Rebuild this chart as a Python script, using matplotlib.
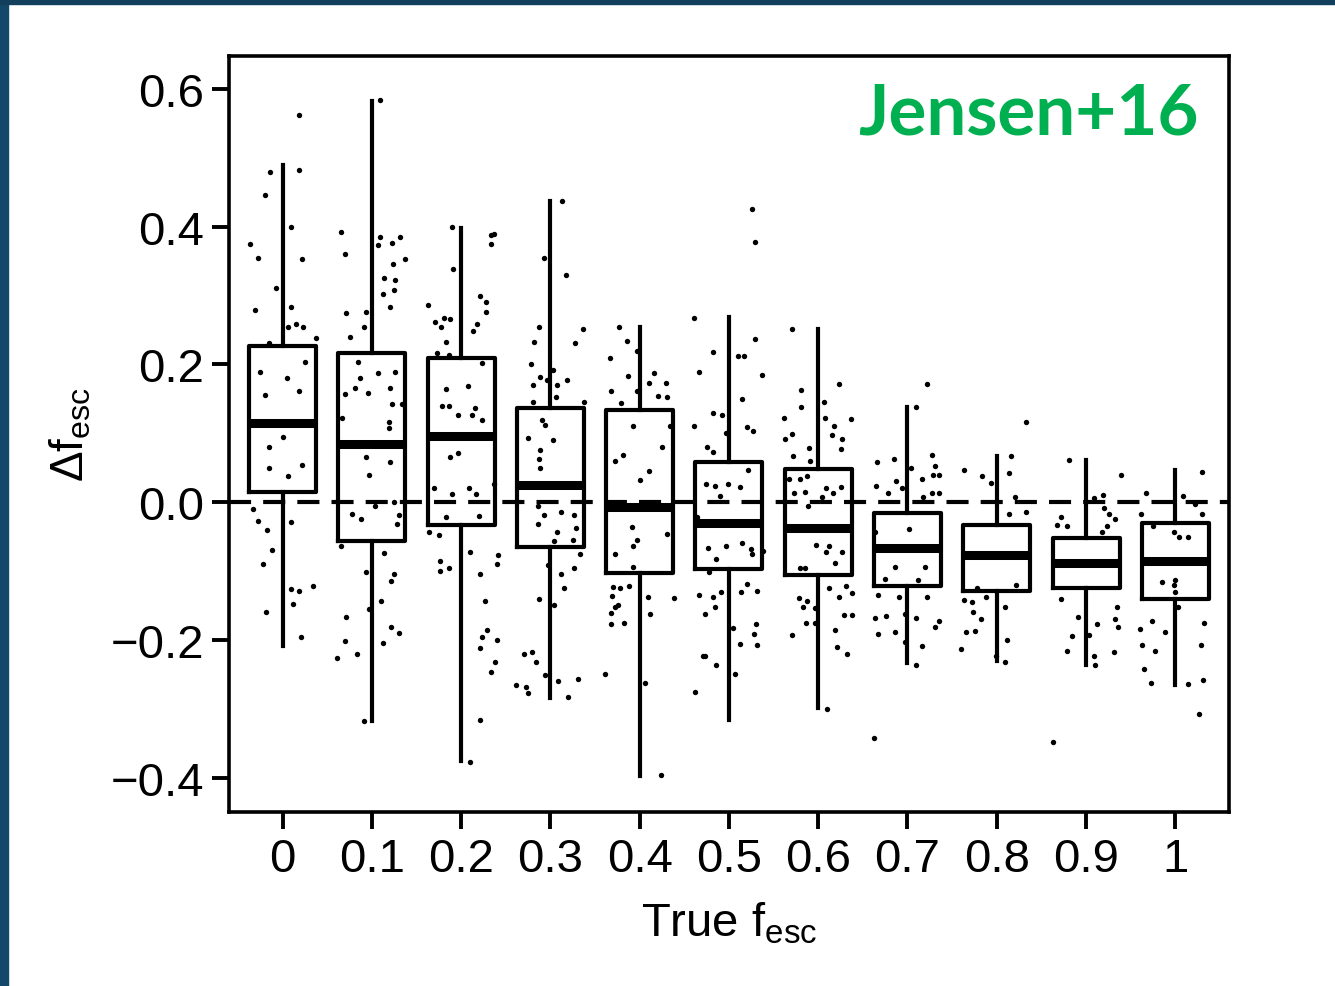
import numpy as np
import matplotlib
matplotlib.use('Agg')
import matplotlib.pyplot as plt
from matplotlib.patches import Rectangle

# categories (true f_esc)
labels = ['0', '0.1', '0.2', '0.3', '0.4', '0.5', '0.6', '0.7', '0.8', '0.9', '1']

# box statistics
q1 = [0.015, -0.057, -0.033, -0.065, -0.103, -0.097, -0.106, -0.122, -0.129, -0.125, -0.141]
med = [0.115, 0.084, 0.096, 0.025, -0.007, -0.030, -0.038, -0.067, -0.077, -0.089, -0.086]
q3 = [0.227, 0.216, 0.209, 0.137, 0.134, 0.058, 0.048, -0.016, -0.033, -0.052, -0.031]
wlo = [-0.209, -0.318, -0.376, -0.285, -0.398, -0.317, -0.299, -0.234, -0.231, -0.237, -0.266]
whi = [0.490, 0.582, 0.398, 0.437, 0.254, 0.269, 0.251, 0.138, 0.067, 0.061, 0.046]

# individual points: horizontal jitter (in category units) and delta f_esc
jit0 = [0.18, -0.14, 0.18, -0.20, 0.09, -0.36, -0.27, 0.22, -0.07, -0.31, 0.09, 0.15, 0.23, 0.06, 0.37, -0.15,
        -0.25, 0.05, -0.20, 0.18, 0.25, -0.15, -0.15, 0.06, 0.22, 0.01, -0.33, -0.28, -0.17, 0.10, -0.12, -0.22,
        0.09, 0.18, 0.34, 0.12, -0.19, 0.21]
val0 = [0.562, 0.479, 0.483, 0.446, 0.400, 0.375, 0.355, 0.353, 0.311, 0.279, 0.283, 0.259, 0.254, 0.254, 0.238, 0.231,
        0.189, 0.181, 0.155, 0.161, 0.203, 0.080, 0.050, 0.038, 0.054, 0.094, -0.010, -0.027, -0.040, -0.029, -0.069, -0.090,
        -0.126, -0.129, -0.122, -0.148, -0.159, -0.196]

jit1 = [0.09, -0.34, -0.30, 0.09, 0.07, 0.23, 0.32, 0.37, 0.24, 0.14, 0.26, 0.25, 0.12, 0.20, -0.29, -0.06,
        -0.09, -0.24, -0.16, -0.13, 0.07, -0.19, -0.04, -0.30, 0.26, 0.20, 0.23, 0.34, 0.19, 0.19, -0.33, 0.20,
        -0.06, -0.03, -0.22, -0.12, 0.04, 0.25, 0.30, 0.28, -0.34, 0.14, -0.07, 0.25, 0.21, 0.10, -0.03, -0.29,
        0.21, 0.31, -0.30, 0.12, -0.17, -0.39, -0.09]
val1 = [0.584, 0.392, 0.360, 0.385, 0.373, 0.376, 0.385, 0.353, 0.346, 0.325, 0.323, 0.308, 0.303, 0.283, 0.274, 0.276,
        0.254, 0.240, 0.203, 0.181, 0.187, 0.166, 0.159, 0.157, 0.189, 0.166, 0.143, 0.143, 0.117, 0.107, 0.122, 0.058,
        0.066, 0.039, -0.017, -0.025, -0.005, 0.000, -0.018, -0.032, -0.064, -0.074, -0.102, -0.105, -0.114, -0.143, -0.155, -0.167,
        -0.181, -0.190, -0.201, -0.205, -0.220, -0.226, -0.318]

jit2 = [-0.10, 0.34, 0.37, 0.34, -0.09, 0.21, 0.28, 0.28, -0.37, -0.29, -0.23, -0.19, -0.12, -0.17, 0.13, 0.18,
        -0.27, -0.14, 0.23, -0.17, 0.08, -0.21, -0.14, -0.04, 0.16, 0.12, 0.23, -0.12, -0.04, -0.30, -0.10, 0.09,
        0.17, 0.37, -0.17, 0.20, -0.25, -0.36, 0.10, -0.24, -0.24, -0.14, 0.21, 0.40, 0.41, 0.27, 0.29, 0.23,
        0.40, 0.21, 0.38, 0.33, 0.21, 0.10]
val2 = [0.400, 0.388, 0.389, 0.375, 0.338, 0.300, 0.290, 0.276, 0.286, 0.261, 0.254, 0.268, 0.266, 0.233, 0.248, 0.258,
        0.216, 0.214, 0.202, 0.165, 0.169, 0.139, 0.139, 0.127, 0.136, 0.126, 0.119, 0.066, 0.072, 0.020, 0.012, 0.021,
        0.012, 0.027, -0.021, -0.020, -0.048, -0.044, -0.072, -0.086, -0.100, -0.095, -0.105, -0.090, -0.077, -0.144, -0.185, -0.196,
        -0.200, -0.212, -0.232, -0.246, -0.316, -0.378]

jit3 = [0.13, -0.07, 0.17, -0.13, 0.37, -0.18, 0.28, -0.22, -0.12, -0.19, -0.04, 0.03, 0.08, 0.19, -0.19, 0.06,
        0.38, -0.09, -0.06, -0.25, 0.03, -0.12, -0.13, -0.12, -0.14, -0.07, 0.12, 0.27, -0.14, 0.29, 0.07, 0.25,
        0.04, 0.33, -0.03, 0.12, 0.26, 0.15, -0.13, 0.04, -0.30, -0.20, -0.16, -0.06, -0.39, -0.27, -0.25, 0.09,
        0.31, 0.20]
val3 = [0.437, 0.355, 0.330, 0.254, 0.252, 0.233, 0.231, 0.201, 0.182, 0.170, 0.177, 0.192, 0.170, 0.177, 0.145, 0.152,
        0.146, 0.119, 0.112, 0.093, 0.090, 0.076, 0.063, 0.049, -0.006, -0.018, -0.014, -0.018, -0.032, -0.037, -0.044, -0.055,
        -0.056, -0.076, -0.092, -0.104, -0.095, -0.124, -0.141, -0.149, -0.220, -0.217, -0.232, -0.251, -0.265, -0.269, -0.277, -0.260,
        -0.257, -0.283]

jit4 = [-0.23, -0.14, -0.33, -0.03, -0.13, 0.16, 0.10, 0.29, 0.21, 0.31, -0.32, -0.21, -0.03, -0.07, 0.34, -0.19,
        -0.28, 0.25, 0.10, 0.00, -0.09, -0.07, -0.03, -0.28, 0.31, -0.07, -0.30, -0.22, -0.12, 0.09, 0.39, -0.31,
        -0.24, -0.28, -0.32, -0.17, 0.12, -0.32, -0.39, 0.06, 0.24]
val4 = [0.255, 0.234, 0.210, 0.220, 0.183, 0.187, 0.173, 0.173, 0.154, 0.153, 0.162, 0.144, 0.162, 0.110, 0.110, 0.068,
        0.060, 0.080, 0.045, 0.032, -0.036, -0.064, -0.055, -0.075, -0.046, -0.094, -0.123, -0.125, -0.122, -0.138, -0.139, -0.137,
        -0.150, -0.153, -0.161, -0.175, -0.162, -0.177, -0.249, -0.263, -0.397]

jit5 = [0.26, 0.29, -0.39, 0.29, -0.18, 0.10, 0.17, -0.34, 0.37, 0.15, -0.18, -0.08, -0.39, 0.20, 0.27, -0.03,
        -0.24, -0.18, 0.21, -0.26, -0.16, -0.01, 0.12, -0.10, -0.36, 0.12, -0.03, -0.23, 0.15, 0.25, 0.26, -0.14,
        0.38, -0.22, 0.20, 0.14, -0.34, -0.18, -0.09, -0.16, 0.32, -0.27, 0.30, 0.28, 0.05, 0.32, 0.12, -0.29,
        -0.27, -0.15, 0.07, -0.38]
val5 = [0.426, 0.378, 0.268, 0.237, 0.218, 0.212, 0.212, 0.189, 0.185, 0.150, 0.130, 0.126, 0.110, 0.109, 0.103, 0.100,
        0.080, 0.073, 0.047, 0.027, 0.024, 0.027, 0.022, 0.009, -0.022, -0.029, -0.064, -0.066, -0.059, -0.068, -0.075, -0.083,
        -0.071, -0.101, -0.119, -0.131, -0.135, -0.138, -0.131, -0.152, -0.129, -0.162, -0.177, -0.191, -0.183, -0.207, -0.206, -0.224,
        -0.224, -0.237, -0.250, -0.276]

jit6 = [-0.29, 0.23, -0.19, -0.19, 0.06, -0.38, 0.08, 0.37, 0.18, -0.37, -0.29, 0.15, 0.27, 0.25, -0.10, -0.28,
        -0.09, -0.33, -0.20, -0.12, 0.09, -0.15, 0.04, 0.17, 0.26, -0.27, -0.11, -0.03, 0.12, 0.09, 0.27, 0.19,
        -0.20, -0.15, 0.12, 0.31, 0.38, 0.23, -0.22, -0.12, -0.17, -0.04, 0.29, 0.38, -0.14, -0.04, 0.19, -0.29,
        0.21, 0.32, 0.10]
val6 = [0.252, 0.171, 0.163, 0.138, 0.145, 0.122, 0.122, 0.121, 0.111, 0.092, 0.099, 0.097, 0.092, 0.077, 0.078, 0.067,
        0.060, 0.033, 0.033, 0.038, 0.021, 0.015, 0.008, 0.013, 0.022, 0.013, -0.005, -0.062, -0.063, -0.072, -0.073, -0.088,
        -0.096, -0.096, -0.125, -0.122, -0.132, -0.138, -0.139, -0.143, -0.152, -0.154, -0.164, -0.164, -0.175, -0.175, -0.185, -0.193,
        -0.211, -0.221, -0.300]

jit7 = [0.22, 0.10, 0.28, -0.15, -0.34, 0.04, 0.31, 0.29, 0.35, 0.16, -0.13, -0.35, -0.22, 0.17, 0.27, 0.35,
        -0.06, 0.02, -0.36, -0.11, 0.00, 0.09, -0.14, 0.20, -0.25, 0.12, -0.33, -0.09, 0.22, -0.36, -0.24, -0.03,
        0.09, 0.35, 0.31, -0.14, -0.33, -0.03, 0.16, 0.09, -0.37]
val7 = [0.172, 0.138, 0.069, 0.062, 0.059, 0.049, 0.053, 0.040, 0.039, 0.034, 0.031, 0.023, 0.013, 0.008, 0.013, 0.013,
        0.020, -0.039, -0.044, -0.066, -0.066, -0.067, -0.094, -0.094, -0.112, -0.113, -0.135, -0.138, -0.138, -0.168, -0.166, -0.163,
        -0.168, -0.172, -0.182, -0.188, -0.192, -0.203, -0.209, -0.236, -0.342]

jit8 = [0.33, 0.16, -0.37, -0.16, -0.06, 0.14, 0.20, 0.33, 0.14, -0.08, 0.22, -0.22, -0.12, -0.37, -0.28, 0.09,
        -0.27, -0.18, -0.34, -0.24, 0.12, -0.40, -0.01, 0.09]
val8 = [0.117, 0.067, 0.046, 0.038, 0.028, 0.042, 0.008, -0.015, -0.017, -0.077, -0.120, -0.125, -0.138, -0.142, -0.145, -0.153,
        -0.160, -0.170, -0.189, -0.187, -0.200, -0.214, -0.223, -0.232]

jit9 = [-0.19, 0.39, 0.09, 0.19, -0.28, -0.33, -0.21, 0.26, 0.32, 0.24, 0.18, 0.20, -0.05, 0.24, -0.28, 0.35,
        -0.09, 0.12, 0.32, 0.36, -0.16, 0.03, -0.21, 0.31, 0.09, 0.10, -0.37]
val9 = [0.061, 0.040, 0.006, 0.011, -0.021, -0.033, -0.034, -0.017, -0.025, -0.034, -0.043, -0.008, -0.089, -0.090, -0.140, -0.152,
        -0.167, -0.177, -0.169, -0.181, -0.194, -0.193, -0.216, -0.217, -0.224, -0.237, -0.349]

jit10 = [0.30, -0.33, 0.09, 0.22, 0.30, -0.38, -0.25, -0.02, 0.04, 0.14, -0.15, 0.00, -0.02, 0.00, 0.03, -0.26,
         0.32, -0.40, -0.12, 0.29, -0.37, -0.23, -0.35, -0.27, 0.14, 0.31, 0.27]
val10 = [0.044, 0.013, 0.009, -0.003, -0.017, -0.017, -0.034, -0.043, -0.050, -0.050, -0.116, -0.113, -0.121, -0.131, -0.153, -0.173,
         -0.176, -0.184, -0.188, -0.207, -0.207, -0.216, -0.243, -0.262, -0.264, -0.258, -0.308]

jitters = [jit0, jit1, jit2, jit3, jit4, jit5, jit6, jit7, jit8, jit9, jit10]
values = [val0, val1, val2, val3, val4, val5, val6, val7, val8, val9, val10]

yticks = [-0.4, -0.2, 0.0, 0.2, 0.4, 0.6]
ytick_labels = ['\u22120.4', '\u22120.2', '0.0', '0.2', '0.4', '0.6']

plt.rcParams['font.family'] = ['Liberation Sans', 'DejaVu Sans']
plt.rcParams['mathtext.default'] = 'regular'

fig = plt.figure(figsize=(13.35, 9.87), dpi=100)

# slide background strips (left and top)
fig.patches.append(Rectangle((0, 0), 0.0062, 1, transform=fig.transFigure, color='#14486a', zorder=0))
fig.patches.append(Rectangle((0, 0.9945), 1, 0.0055, transform=fig.transFigure, color='#12405c', zorder=0))

ax = fig.add_axes([0.1715, 0.1763, 0.749, 0.766])

pos = np.arange(1, len(labels) + 1)
stats = []
for i in range(len(labels)):
    stats.append(dict(med=med[i], q1=q1[i], q3=q3[i], whislo=wlo[i], whishi=whi[i]))

ax.bxp(stats, positions=pos, widths=0.75, showcaps=False, showfliers=False,
       boxprops=dict(color='black', linewidth=3.0),
       whiskerprops=dict(color='black', linewidth=3.0),
       medianprops=dict(color='black', linewidth=6.5, solid_capstyle='butt'))

for i in range(len(labels)):
    ax.scatter(pos[i] + np.array(jitters[i]), values[i], s=15, color='black', linewidths=0, zorder=4)

ax.axhline(0, color='black', linestyle=(0, (5.3, 2.9)), linewidth=3.0, zorder=3)

ax.set_xlim(0.4, 11.6)
ax.set_ylim(-0.450, 0.648)
ax.set_xticks(pos)
ax.set_xticklabels(labels)
ax.set_yticks(yticks)
ax.set_yticklabels(ytick_labels)
ax.tick_params(axis='both', direction='out', length=12, width=2.8, labelsize=34, pad=6)

for sp in ax.spines.values():
    sp.set_linewidth(2.6)

ax.set_xlabel('True f$_{esc}$', fontsize=34, labelpad=14)
ax.set_ylabel('\u0394f$_{esc}$', fontsize=33, labelpad=12)

ax.text(0.97, 0.968, 'Jensen+16', transform=ax.transAxes, ha='right', va='top',
        fontsize=51, fontweight='bold', color='#00b050', family=['Lato', 'DejaVu Sans'])

fig.savefig('out.png', dpi=100)
